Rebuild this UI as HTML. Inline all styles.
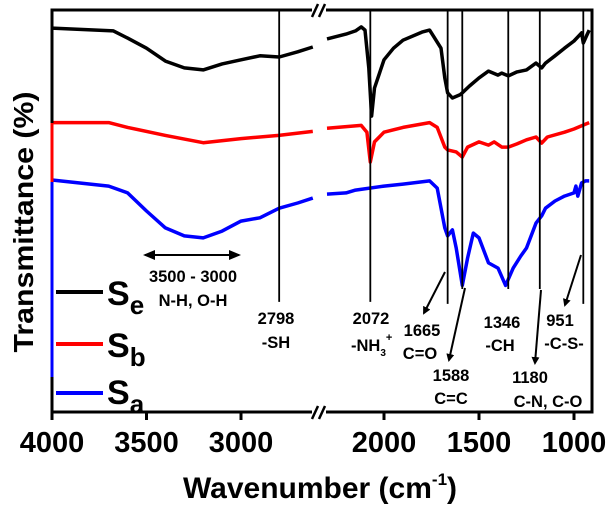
<!DOCTYPE html>
<html><head><meta charset="utf-8"><style>
html,body{margin:0;padding:0;background:#fff;}
svg{display:block;font-family:"Liberation Sans",Arial,sans-serif;font-weight:bold;}
</style></head><body>
<svg id="chart" width="607" height="507" viewBox="0 0 607 507" xmlns="http://www.w3.org/2000/svg">
<defs>
<marker id="ah" markerWidth="8" markerHeight="8" refX="6" refY="4" orient="auto" markerUnits="userSpaceOnUse"><path d="M0,0 L8,4 L0,8 z" fill="#000"/></marker>
<marker id="ah2" markerWidth="12" markerHeight="10" refX="10" refY="5" orient="auto-start-reverse" markerUnits="userSpaceOnUse"><path d="M0,0 L12,5 L0,10 z" fill="#000"/></marker>
</defs>
<g id="curves"></g>
<g id="vlines"></g>
<rect x="52" y="10" width="540" height="402" fill="none" stroke="#000" stroke-width="3"/>
<line x1="52" y1="123" x2="52" y2="182" stroke="#f00" stroke-width="3"/>
<line x1="52" y1="182" x2="52" y2="377" stroke="#00f" stroke-width="3"/>
<g>
<rect x="312" y="4" width="14" height="12" fill="#fff"/>
<line x1="312" y1="17" x2="318" y2="4" stroke="#000" stroke-width="2.5"/>
<line x1="319" y1="17" x2="325" y2="4" stroke="#000" stroke-width="2.5"/>
</g>
<g>
<rect x="312" y="406" width="14" height="12" fill="#fff"/>
<line x1="312" y1="419" x2="318" y2="406" stroke="#000" stroke-width="2.5"/>
<line x1="319" y1="419" x2="325" y2="406" stroke="#000" stroke-width="2.5"/>
</g>
<g id="ticks"></g>
<text x="320" y="498" font-size="30" text-anchor="middle">Wavenumber (cm<tspan font-size="17" dy="-13">-1</tspan><tspan dy="13">)</tspan></text>
<text transform="translate(33,222) rotate(-90)" font-size="28" text-anchor="middle" textLength="261" lengthAdjust="spacingAndGlyphs">Transmittance (%)</text>
<g>
<g><line x1="56" y1="292" x2="103" y2="292" stroke="#000" stroke-width="4"/><text x="107" y="305" font-size="34">S<tspan font-size="26" dy="9">e</tspan></text></g>
<g><line x1="56" y1="344" x2="103" y2="344" stroke="#f00" stroke-width="4"/><text x="107" y="357" font-size="34">S<tspan font-size="26" dy="9">b</tspan></text></g>
<g><line x1="56" y1="393" x2="103" y2="393" stroke="#00f" stroke-width="4"/><text x="107" y="404" font-size="34">S<tspan font-size="26" dy="9">a</tspan></text></g>
</g>
<g font-size="16.5">
<line x1="145" y1="255" x2="239" y2="255" stroke="#000" stroke-width="2" marker-start="url(#ah2)" marker-end="url(#ah2)"/>
<text x="193" y="282" text-anchor="middle">3500 - 3000</text>
<text x="193" y="306" text-anchor="middle">N-H, O-H</text>
<text x="276" y="324" text-anchor="middle">2798</text>
<text x="276" y="348" text-anchor="middle">-SH</text>
<text x="371" y="324" text-anchor="middle">2072</text>
<text x="351" y="351">-NH<tspan font-size="10" dy="5">3</tspan><tspan font-size="11" dy="-15">+</tspan></text>
<text x="422" y="336" text-anchor="middle">1665</text>
<text x="420" y="359" text-anchor="middle">C=O</text>
<text x="451" y="381" text-anchor="middle">1588</text>
<text x="451" y="404" text-anchor="middle">C=C</text>
<text x="502" y="328" text-anchor="middle">1346</text>
<text x="500" y="351" text-anchor="middle">-CH</text>
<text x="530" y="383" text-anchor="middle">1180</text>
<text x="548" y="407" text-anchor="middle">C-N, C-O</text>
<text x="560" y="326" text-anchor="middle">951</text>
<text x="564" y="349" text-anchor="middle">-C-S-</text>
<line x1="445" y1="272" x2="424" y2="313" stroke="#000" stroke-width="2" marker-end="url(#ah)"/>
<line x1="465" y1="288" x2="449" y2="360" stroke="#000" stroke-width="2" marker-end="url(#ah)"/>
<line x1="541" y1="290" x2="535" y2="363" stroke="#000" stroke-width="2" marker-end="url(#ah)"/>
<line x1="581" y1="255" x2="565" y2="305" stroke="#000" stroke-width="2" marker-end="url(#ah)"/>
</g>
</svg>
<script>
// wavenumbers and transmittance (arbitrary units, 0 bottom .. 100 top of frame)
const wnSe = [4000,3675,3600,3500,3400,3300,3200,3100,3000,2900,2798,2700,2620, 2300,2200,2150,2120,2100,2080,2065,2050,2000,1950,1900,1800,1760,1740,1700,1680,1665,1640,1600,1588,1550,1500,1450,1400,1380,1346,1300,1250,1200,1170,1150,1100,1050,1000,960,951,935,920];
const tSe  = [95.5,94.8,93,90.5,87.3,85.6,85.1,86.6,87.6,88.6,88.3,89.6,90.8, 92.8,94,94.8,95.8,95,85.6,73.6,80.6,87.6,90.5,92.5,94.5,95,93.5,90.5,83.1,79.4,78.1,78.9,79.4,81.1,83.1,84.8,83.8,84.3,83.6,84.6,85.1,86.8,85.6,86.8,88.6,90.5,92.3,94.3,91.8,93.5,95];
const wnSb = [4000,3700,3600,3400,3200,3000,2800,2620, 2300,2120,2090,2072,2050,2000,1900,1760,1720,1680,1665,1620,1588,1560,1500,1450,1420,1380,1346,1300,1250,1200,1170,1140,1050,1000,920];
const tSb  = [72,72,70.8,68.8,67,68,68.8,69.8, 70.6,71.3,69.6,62.2,67.2,69.6,70.8,72,70.8,65.9,65.2,64.7,63.4,65.9,67.2,66.4,67.2,65.9,65.9,66.7,67.7,68.4,66.9,68.4,69.6,70.4,72];
const wnSa = [4000,3700,3600,3500,3400,3300,3200,3100,3000,2900,2798,2700,2620, 2300,2200,2150,2000,1900,1760,1720,1680,1665,1640,1620,1588,1560,1530,1500,1450,1400,1360,1320,1280,1250,1200,1170,1150,1100,1050,1000,990,980,960,940,920];
const tSa  = [57.7,56.2,54.5,50,45.8,43.8,43.3,45,47.5,48.3,50.7,52,53.2, 54.2,54.5,55.2,56.2,56.7,57.5,55.7,45.8,43.8,45.3,40.8,31.5,38.3,44.5,43.3,37.1,35.8,31.5,35.8,38.8,40.8,47,48.8,50.7,52.5,53.7,54.5,56.2,53.7,57,57.5,57.5];
const xTicks = [4000,3500,3000,2000,1500,1000];
const peakWn = [2798,2072,1665,1588,1346,1180,951];
const peakEnd = [27.4,27.4,26.9,30.6,30.6,30.6,26.9];

const NS='http://www.w3.org/2000/svg';
function x(w){ return w>=2450 ? 52+(4000-w)*0.189 : 384+(2000-w)*0.19; }
function y(v){ return 412-v*4.02; }
function path(ws,ts){
  let d='', prevLeft=null;
  for(let i=0;i<ws.length;i++){
    const left=ws[i]>=2450;
    d += (prevLeft===null||left!==prevLeft?'M':'L')+x(ws[i]).toFixed(1)+','+y(ts[i]).toFixed(1)+' ';
    prevLeft=left;
  }
  return d;
}
const cg=document.getElementById('curves');
[[wnSe,tSe,'#000','spectrum-se'],[wnSb,tSb,'#f00','spectrum-sb'],[wnSa,tSa,'#00f','spectrum-sa']].forEach(s=>{
  const p=document.createElementNS(NS,'path');
  p.setAttribute('d',path(s[0],s[1]));
  p.setAttribute('fill','none');p.setAttribute('stroke',s[2]);p.setAttribute('stroke-width','3.5');
  p.setAttribute('stroke-linejoin','round');
  
  
  cg.appendChild(p);
});
const vg=document.getElementById('vlines');
peakWn.forEach((w,i)=>{
  const l=document.createElementNS(NS,'line');
  l.setAttribute('x1',x(w));l.setAttribute('x2',x(w));
  l.setAttribute('y1',10);l.setAttribute('y2',y(peakEnd[i]));
  l.setAttribute('stroke','#000');l.setAttribute('stroke-width','1.8');
  
  
  vg.appendChild(l);
});
const tg=document.getElementById('ticks');
xTicks.forEach(w=>{
  const l=document.createElementNS(NS,'line');
  l.setAttribute('x1',x(w));l.setAttribute('x2',x(w));l.setAttribute('y1',412);l.setAttribute('y2',420);
  l.setAttribute('stroke','#000');l.setAttribute('stroke-width','3');
  
  
  tg.appendChild(l);
  const t=document.createElementNS(NS,'text');
  t.setAttribute('x',x(w));t.setAttribute('y',452);t.setAttribute('font-size','29');
  t.setAttribute('text-anchor','middle');t.textContent=w;
  
  
  tg.appendChild(t);
});
</script>
</body></html>
